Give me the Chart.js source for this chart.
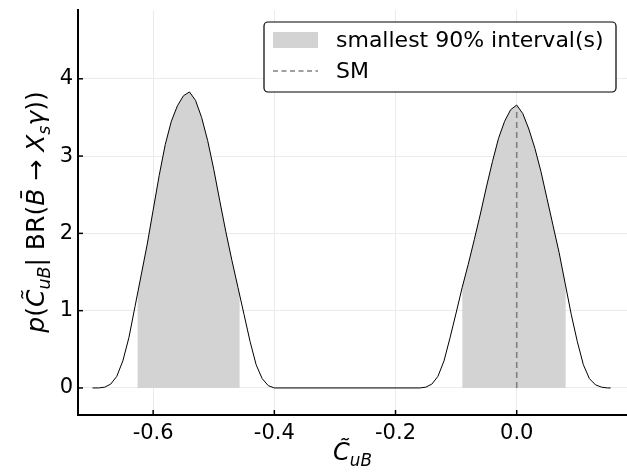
<!DOCTYPE html>
<html>
<head>
<meta charset="utf-8">
<script src="https://cdn.jsdelivr.net/npm/chart.js@4/dist/chart.umd.min.js"></script>
<style>
  html, body { margin: 0; padding: 0; background: #fff; }
  #chart { display: block; }
</style>
</head>
<body>
<canvas id="chart" width="627" height="474"></canvas>
<script>
// posterior density
const curveX = [-0.70, -0.69, -0.68, -0.67, -0.66, -0.65, -0.64, -0.63, -0.62, -0.61,
  -0.60, -0.59, -0.58, -0.57, -0.56, -0.55, -0.54, -0.53, -0.52, -0.51,
  -0.50, -0.49, -0.48, -0.47, -0.46, -0.45, -0.44, -0.43, -0.42, -0.41,
  -0.40, -0.16, -0.15, -0.14, -0.13, -0.12, -0.11, -0.10, -0.09, -0.08,
  -0.07, -0.06, -0.05, -0.04, -0.03, -0.02, -0.01, 0.00, 0.01, 0.02,
  0.03, 0.04, 0.05, 0.06, 0.07, 0.08, 0.09, 0.10, 0.11, 0.12,
  0.13, 0.14, 0.15, 0.155];
const curveY = [0, 0, 0.01, 0.05, 0.15, 0.35, 0.65, 1.05, 1.45, 1.85,
  2.3, 2.75, 3.15, 3.45, 3.65, 3.78, 3.83, 3.72, 3.5, 3.2,
  2.83, 2.42, 2.02, 1.65, 1.3, 0.95, 0.6, 0.3, 0.12, 0.03,
  0, 0, 0.01, 0.05, 0.15, 0.35, 0.65, 0.97, 1.3, 1.6,
  1.92, 2.25, 2.6, 2.93, 3.23, 3.45, 3.6, 3.66, 3.55, 3.35,
  3.1, 2.8, 2.45, 2.1, 1.75, 1.35, 0.95, 0.6, 0.3, 0.12,
  0.04, 0.01, 0, 0];

// smallest 90% intervals and the curve height at their edges
const intervals = [[-0.626, -0.457], [-0.090, 0.081]];
const intervalEdgeY = [[1.2, 1.2], [1.3, 1.31]];

const smValue = 0.0;
const smTop = 3.63;

const xTicks = [-0.6, -0.4, -0.2, 0.0];
const yTicks = [0, 1, 2, 3, 4];

const legendLabels = ['smallest 90% interval(s)', 'SM'];

const SHADE = '#d3d3d3';
const FONT = '"DejaVu Sans", sans-serif';

function curvePoints() {
  return curveX.map((x, i) => ({ x: x, y: curveY[i] }));
}

function shadePoints(k) {
  const [a, b] = intervals[k];
  const pts = [{ x: a, y: intervalEdgeY[k][0] }];
  curveX.forEach((x, i) => {
    if (x > a && x < b) pts.push({ x: x, y: curveY[i] });
  });
  pts.push({ x: b, y: intervalEdgeY[k][1] });
  return pts;
}

// draw text made of pieces (italic / subscript)
function richWidth(ctx, parts, size) {
  let w = 0;
  parts.forEach(p => {
    const s = p.sub ? size * 0.7 : size;
    ctx.font = (p.i ? 'italic ' : '') + s + 'px ' + FONT;
    w += ctx.measureText(p.t).width;
  });
  return w;
}

function drawRich(ctx, parts, size, cx, cy, angle) {
  ctx.save();
  ctx.translate(cx, cy);
  ctx.rotate(angle || 0);
  ctx.fillStyle = '#000';
  ctx.textBaseline = 'alphabetic';
  ctx.textAlign = 'left';
  let x = -richWidth(ctx, parts, size) / 2;
  const base = size * 0.35;
  parts.forEach(p => {
    const s = p.sub ? size * 0.7 : size;
    ctx.font = (p.i ? 'italic ' : '') + s + 'px ' + FONT;
    ctx.fillText(p.t, x, base + (p.sub ? size * 0.25 : 0));
    x += ctx.measureText(p.t).width;
  });
  ctx.restore();
}

const xTitle = [{ t: 'C\u0303', i: 1 }, { t: 'uB', i: 1, sub: 1 }];
const yTitle = [
  { t: 'p', i: 1 }, { t: '(' }, { t: 'C\u0303', i: 1 }, { t: 'uB', i: 1, sub: 1 },
  { t: '| BR(' }, { t: 'B\u0304', i: 1 }, { t: ' \u2192 ' }, { t: 'X', i: 1 },
  { t: 's', i: 1, sub: 1 }, { t: '\u03b3', i: 1 }, { t: '))' }
];

const decorPlugin = {
  id: 'decor',
  afterDraw(chart) {
    const ctx = chart.ctx;
    const area = chart.chartArea;
    const xs = chart.scales.x;
    const ys = chart.scales.y;

    // inward tick marks
    ctx.save();
    ctx.strokeStyle = '#000';
    ctx.lineWidth = 1.5;
    xTicks.forEach(v => {
      const px = xs.getPixelForValue(v);
      ctx.beginPath();
      ctx.moveTo(px, area.bottom);
      ctx.lineTo(px, area.bottom - 5);
      ctx.stroke();
    });
    yTicks.forEach(v => {
      const py = ys.getPixelForValue(v);
      ctx.beginPath();
      ctx.moveTo(area.left, py);
      ctx.lineTo(area.left + 5, py);
      ctx.stroke();
    });
    ctx.restore();

    // legend box
    const bx = area.left + 186, by = area.top + 12, bw = 352, bh = 70;
    ctx.save();
    ctx.fillStyle = '#fff';
    ctx.strokeStyle = '#000';
    ctx.lineWidth = 1.2;
    ctx.beginPath();
    ctx.roundRect(bx, by, bw, bh, 4);
    ctx.fill();
    ctx.stroke();

    ctx.fillStyle = SHADE;
    ctx.fillRect(bx + 9, by + 10, 45, 16);

    ctx.strokeStyle = '#808080';
    ctx.lineWidth = 1.6;
    ctx.setLineDash([5, 3.5]);
    ctx.beginPath();
    ctx.moveTo(bx + 9, by + 49);
    ctx.lineTo(bx + 54, by + 49);
    ctx.stroke();
    ctx.setLineDash([]);

    ctx.fillStyle = '#000';
    ctx.font = '22px ' + FONT;
    ctx.textBaseline = 'middle';
    ctx.fillText(legendLabels[0], bx + 72, by + 19);
    ctx.fillText(legendLabels[1], bx + 72, by + 50);
    ctx.restore();

    // axis titles
    drawRich(ctx, xTitle, 24, (area.left + area.right) / 2, 452, 0);
    drawRich(ctx, yTitle, 25, 35, 212, -Math.PI / 2);
  }
};

const ctx = document.getElementById('chart').getContext('2d');

// lower order is painted last (on top)
new Chart(ctx, {
  type: 'line',
  data: {
    datasets: [
      {
        data: shadePoints(0),
        order: 3,
        borderWidth: 0,
        backgroundColor: SHADE,
        fill: 'origin',
        pointRadius: 0
      },
      {
        data: shadePoints(1),
        order: 3,
        borderWidth: 0,
        backgroundColor: SHADE,
        fill: 'origin',
        pointRadius: 0
      },
      {
        data: curvePoints(),
        order: 2,
        borderColor: '#000',
        borderWidth: 1,
        fill: false,
        pointRadius: 0
      },
      {
        data: [{ x: smValue, y: 0 }, { x: smValue, y: smTop }],
        order: 1,
        borderColor: '#808080',
        borderWidth: 1.6,
        borderDash: [6, 4],
        fill: false,
        pointRadius: 0
      }
    ]
  },
  options: {
    responsive: false,
    animation: false,
    devicePixelRatio: 1,
    layout: { padding: { top: 10, right: 0, left: 0, bottom: 0 } },
    plugins: {
      legend: { display: false },
      tooltip: { enabled: false }
    },
    scales: {
      x: {
        type: 'linear',
        min: -0.724,
        max: 0.182,
        afterBuildTicks: s => { s.ticks = xTicks.map(v => ({ value: v })); },
        afterFit: s => { s.height = 59; s.paddingLeft = 0; s.paddingRight = 0; },
        ticks: {
          callback: v => v.toFixed(1),
          color: '#000',
          padding: 6,
          maxRotation: 0,
          font: { family: FONT, size: 21 }
        },
        grid: { color: '#ebebeb', lineWidth: 1, drawTicks: false },
        border: { color: '#000', width: 2 }
      },
      y: {
        type: 'linear',
        min: -0.35,
        max: 4.89,
        afterBuildTicks: s => { s.ticks = yTicks.map(v => ({ value: v })); },
        afterFit: s => { s.width = 78; s.paddingTop = 0; s.paddingBottom = 0; },
        ticks: {
          callback: v => String(v),
          color: '#000',
          padding: 5,
          font: { family: FONT, size: 21 }
        },
        grid: { color: '#ebebeb', lineWidth: 1, drawTicks: false },
        border: { color: '#000', width: 2 }
      }
    }
  },
  plugins: [decorPlugin]
});
</script>
</body>
</html>
